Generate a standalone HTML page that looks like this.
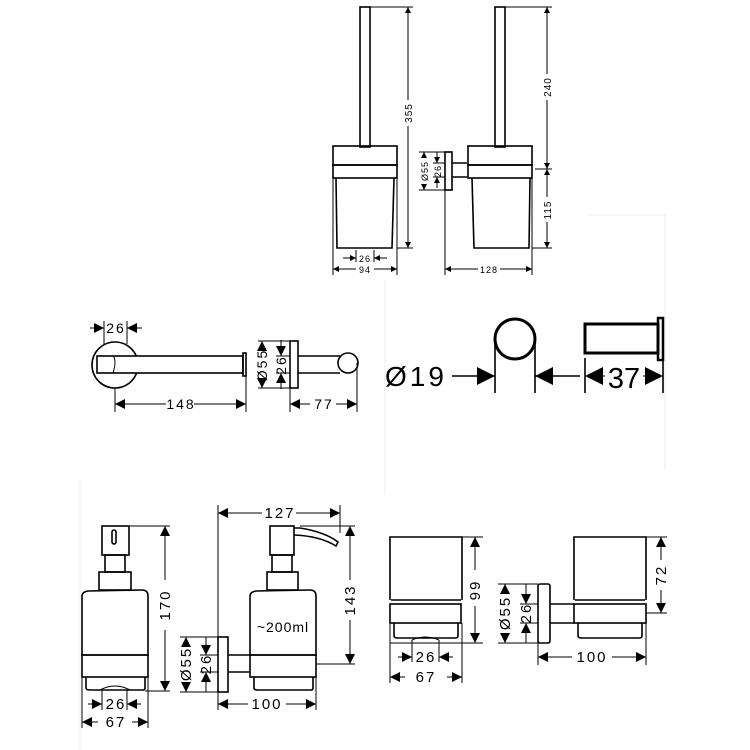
<!DOCTYPE html>
<html><head><meta charset="utf-8"><style>
html,body{margin:0;padding:0;background:#fff}
svg{display:block}
text{font-family:"Liberation Sans",sans-serif;fill:#000}
</style></head><body>
<svg width="750" height="750" viewBox="0 0 750 750" xmlns="http://www.w3.org/2000/svg">
<defs>
<marker id="a" viewBox="0 0 10 10" refX="10" refY="5" markerUnits="userSpaceOnUse" markerWidth="7" markerHeight="6" orient="auto-start-reverse"><path d="M0,0L10,5L0,10z" fill="#000"/></marker>
<marker id="b" viewBox="0 0 10 10" refX="10" refY="5" markerUnits="userSpaceOnUse" markerWidth="11" markerHeight="10" orient="auto-start-reverse"><path d="M0,0L10,5L0,10z" fill="#000"/></marker>
<marker id="c" viewBox="0 0 10 10" refX="10" refY="5" markerUnits="userSpaceOnUse" markerWidth="20" markerHeight="18" orient="auto-start-reverse"><path d="M0,0L10,5L0,10z" fill="#000"/></marker>
</defs>
<g stroke="#eee" stroke-width="1" fill="none">
<path d="M588,215H665V470"/><path d="M385,280V495"/><path d="M80,478V750"/>
</g>
<g fill="none" stroke="#000" stroke-width="1.6">
<rect x="360" y="7" width="10" height="140"/>
<rect x="333" y="146" width="64" height="19"/>
<rect x="333" y="165" width="64" height="13"/>
<path d="M336,178L337,248H392L394,178"/>
<rect x="495" y="7" width="10" height="140"/>
<rect x="468" y="146" width="64" height="19"/>
<rect x="468" y="165" width="64" height="13"/>
<path d="M472,178L474,248H529L530,178"/>
<rect x="445" y="152" width="7" height="38"/>
<path d="M452,163H467M452,177H467"/>
</g>
<g fill="none" stroke="#000" stroke-width="1">
<path d="M370,7H413M397,248H413M333,178V275M397,178V275M356,250V262M374,250V262"/>
<line x1="408" y1="7" x2="408" y2="100" marker-start="url(#a)"/>
<line x1="408" y1="126" x2="408" y2="248" marker-end="url(#a)"/>
<line x1="343" y1="258" x2="356" y2="258" marker-end="url(#a)"/>
<line x1="387" y1="258" x2="374" y2="258" marker-end="url(#a)"/>
<line x1="333" y1="269" x2="356" y2="269" marker-start="url(#a)"/>
<line x1="374" y1="269" x2="397" y2="269" marker-end="url(#a)"/>
<path d="M505,7H552M532,248H552M535,169H552M445,190V275M532,178V275M419,152H445M419,190H445M433,163H445M433,177H445"/>
<line x1="547" y1="7" x2="547" y2="74" marker-start="url(#a)"/>
<line x1="547" y1="100" x2="547" y2="169" marker-end="url(#a)"/>
<line x1="547" y1="169" x2="547" y2="197" marker-start="url(#a)"/>
<line x1="547" y1="222" x2="547" y2="248" marker-end="url(#a)"/>
<line x1="424" y1="152" x2="424" y2="156" marker-start="url(#a)"/>
<line x1="424" y1="186" x2="424" y2="190" marker-end="url(#a)"/>
<line x1="437" y1="152" x2="437" y2="163" marker-end="url(#a)"/>
<line x1="437" y1="188" x2="437" y2="177" marker-end="url(#a)"/>
<line x1="445" y1="269" x2="478" y2="269" marker-start="url(#a)"/>
<line x1="500" y1="269" x2="532" y2="269" marker-end="url(#a)"/>
</g>
<g font-size="10" letter-spacing="1">
<text transform="translate(412,113) rotate(-90)" text-anchor="middle">355</text>
<text transform="translate(551,87) rotate(-90)" text-anchor="middle">240</text>
<text transform="translate(551,210) rotate(-90)" text-anchor="middle">115</text>
<text transform="translate(428,171) rotate(-90)" text-anchor="middle" font-size="9">Ø55</text>
<text transform="translate(441,171) rotate(-90)" text-anchor="middle" font-size="9">26</text>
<text x="365" y="262" text-anchor="middle" font-size="9">26</text>
<text x="365" y="273" text-anchor="middle" font-size="9">94</text>
<text x="489" y="273" text-anchor="middle" font-size="9">128</text>
</g>

<g fill="none" stroke="#000" stroke-width="1.6">
<circle cx="115" cy="365" r="23"/>
<rect x="97" y="356" width="146" height="17" fill="#fff"/>
<path d="M113,356Q117,360 113,373" stroke-width="1"/>
<rect x="243" y="353" width="3" height="23"/>
<rect x="290" y="341" width="8" height="47"/>
<path d="M298,356H340M298,373H340"/>
<circle cx="348" cy="363" r="10"/>
</g>
<g fill="none" stroke="#000" stroke-width="1">
<path d="M104,321V344M127,321V344M115,388V412M246,376V412M258,341H290M258,388H290M276,356H290M276,373H290M290,388V412M357,363V412"/>
<line x1="90" y1="328" x2="104" y2="328" marker-end="url(#b)"/>
<line x1="142" y1="328" x2="127" y2="328" marker-end="url(#b)"/>
<line x1="115" y1="404" x2="166" y2="404" marker-start="url(#b)"/>
<line x1="194" y1="404" x2="246" y2="404" marker-end="url(#b)"/>
<line x1="262" y1="341" x2="262" y2="346" marker-start="url(#b)"/>
<line x1="262" y1="384" x2="262" y2="388" marker-end="url(#b)"/>
<line x1="281" y1="340" x2="281" y2="356" marker-end="url(#b)"/>
<line x1="281" y1="389" x2="281" y2="373" marker-end="url(#b)"/>
<line x1="290" y1="404" x2="310" y2="404" marker-start="url(#b)"/>
<line x1="336" y1="404" x2="357" y2="404" marker-end="url(#b)"/>
</g>
<g font-size="14" letter-spacing="2">
<text x="116" y="333" text-anchor="middle">26</text>
<text x="181" y="409" text-anchor="middle">148</text>
<text x="324" y="409" text-anchor="middle">77</text>
<text transform="translate(267,365) rotate(-90)" text-anchor="middle">Ø55</text>
<text transform="translate(286,365) rotate(-90)" text-anchor="middle">26</text>
</g>

<g fill="none" stroke="#000">
<circle cx="515" cy="339" r="20" stroke-width="3"/>
<rect x="585" y="324" width="73" height="29" stroke-width="3"/>
<rect x="658" y="318" width="5" height="42" stroke-width="2.5"/>
<path d="M495,339V393M535,339V393M585,358V393M663,360V393" stroke-width="1.6"/>
<line x1="452" y1="376" x2="495" y2="376" stroke-width="1.6" marker-end="url(#c)"/>
<line x1="580" y1="376" x2="535" y2="376" stroke-width="1.6" marker-end="url(#c)"/>
<line x1="605" y1="376" x2="585" y2="376" stroke-width="1" marker-end="url(#c)"/>
<line x1="643" y1="376" x2="663" y2="376" stroke-width="1" marker-end="url(#c)"/>
</g>
<text x="385" y="386" font-size="28" letter-spacing="3">Ø19</text>
<text x="624" y="388" font-size="29" text-anchor="middle">37</text>

<g fill="none" stroke="#000" stroke-width="1.6">
<rect x="102" y="526" width="27" height="29"/>
<rect x="112" y="530" width="4" height="14" rx="2"/>
<rect x="105" y="555" width="20" height="17"/>
<rect x="99" y="572" width="32" height="18"/>
<path d="M82,655V596Q82,592 88,591L142,590Q148,590 148,596V655Z"/>
<rect x="82" y="655" width="66" height="22"/>
<path d="M86,677V688Q86,690 90,690H143Q145,690 145,688V677"/>
<path d="M100,690Q115,682 130,690" stroke-width="1"/>
<rect x="218" y="637" width="10" height="55"/>
<path d="M228,655H250M228,672H250"/>
<rect x="270" y="526" width="24" height="29"/>
<path d="M294,528L300,528Q325,532 338,542L336,546Q320,536 294,535"/>
<rect x="272" y="555" width="20" height="17"/>
<rect x="267" y="572" width="31" height="18"/>
<path d="M250,655V596Q250,592 256,591L310,590Q316,590 316,596V655Z"/>
<rect x="250" y="655" width="66" height="22"/>
<path d="M254,677V688Q254,690 258,690H311Q313,690 313,688V677"/>
</g>
<g fill="none" stroke="#000" stroke-width="1">
<path d="M130,526H170M145,691H170M102,690V710M127,690V710M82,677V728M148,677V728"/>
<line x1="165" y1="526" x2="165" y2="580" marker-start="url(#b)"/>
<line x1="165" y1="630" x2="165" y2="691" marker-end="url(#b)"/>
<line x1="88" y1="704" x2="102" y2="704" marker-end="url(#b)"/>
<line x1="141" y1="704" x2="127" y2="704" marker-end="url(#b)"/>
<line x1="82" y1="722" x2="98" y2="722" marker-start="url(#b)"/>
<line x1="132" y1="722" x2="148" y2="722" marker-end="url(#b)"/>
<path d="M218,505V710M340,505V533M300,526H355M316,664H355M180,637H218M180,692H218M200,655H218M200,672H218M316,677V710"/>
<line x1="218" y1="513" x2="262" y2="513" marker-start="url(#b)"/>
<line x1="296" y1="513" x2="340" y2="513" marker-end="url(#b)"/>
<line x1="350" y1="526" x2="350" y2="580" marker-start="url(#b)"/>
<line x1="350" y1="620" x2="350" y2="664" marker-end="url(#b)"/>
<line x1="186" y1="637" x2="186" y2="642" marker-start="url(#b)"/>
<line x1="186" y1="687" x2="186" y2="692" marker-end="url(#b)"/>
<line x1="206" y1="637" x2="206" y2="655" marker-end="url(#b)"/>
<line x1="206" y1="692" x2="206" y2="672" marker-end="url(#b)"/>
<line x1="218" y1="704" x2="248" y2="704" marker-start="url(#b)"/>
<line x1="286" y1="704" x2="316" y2="704" marker-end="url(#b)"/>
</g>
<g font-size="15" letter-spacing="2">
<text transform="translate(170,605) rotate(-90)" text-anchor="middle">170</text>
<text x="116" y="709" text-anchor="middle">26</text>
<text x="116" y="727" text-anchor="middle">67</text>
<text x="280" y="518" text-anchor="middle">127</text>
<text transform="translate(355,600) rotate(-90)" text-anchor="middle">143</text>
<text x="283" y="632" text-anchor="middle" letter-spacing="1" font-size="14">~200ml</text>
<text transform="translate(191,664) rotate(-90)" text-anchor="middle">Ø55</text>
<text transform="translate(211,664) rotate(-90)" text-anchor="middle">26</text>
<text x="267" y="709" text-anchor="middle">100</text>
</g>

<g fill="none" stroke="#000" stroke-width="1.6">
<path d="M390,600V537H462V600"/><path d="M391,600H461"/>
<rect x="390" y="604" width="71" height="19"/>
<path d="M394,623V636Q394,638 398,638H455Q458,638 458,636V623"/>
<path d="M412,640Q425,634 439,640" stroke-width="1"/>
<rect x="538" y="584" width="12" height="59" rx="2"/>
<path d="M550,604H574M550,623H574"/>
<path d="M574,600V537H646V600"/><path d="M575,600H645"/>
<rect x="574" y="604" width="72" height="19"/>
<path d="M578,623V636Q578,638 582,638H639Q642,638 642,636V623"/>
</g>
<g fill="none" stroke="#000" stroke-width="1">
<path d="M462,537H483M390,643H483M412,640V662M439,640V662M390,623V683M462,623V683"/>
<line x1="475" y1="537" x2="475" y2="570" marker-start="url(#b)"/>
<line x1="475" y1="606" x2="475" y2="643" marker-end="url(#b)"/>
<line x1="398" y1="657" x2="412" y2="657" marker-end="url(#b)"/>
<line x1="453" y1="657" x2="439" y2="657" marker-end="url(#b)"/>
<line x1="390" y1="677" x2="405" y2="677" marker-start="url(#b)"/>
<line x1="447" y1="677" x2="462" y2="677" marker-end="url(#b)"/>
<path d="M646,537H667M646,613H667M498,584H538M498,643H538M520,604H538M520,623H538M538,643V665M646,623V665"/>
<line x1="661" y1="537" x2="661" y2="560" marker-start="url(#b)"/>
<line x1="661" y1="590" x2="661" y2="613" marker-end="url(#b)"/>
<line x1="505" y1="584" x2="505" y2="590" marker-start="url(#b)"/>
<line x1="505" y1="637" x2="505" y2="643" marker-end="url(#b)"/>
<line x1="526" y1="584" x2="526" y2="604" marker-end="url(#b)"/>
<line x1="526" y1="643" x2="526" y2="623" marker-end="url(#b)"/>
<line x1="538" y1="657" x2="572" y2="657" marker-start="url(#b)"/>
<line x1="612" y1="657" x2="646" y2="657" marker-end="url(#b)"/>
</g>
<g font-size="15" letter-spacing="2">
<text transform="translate(480,590) rotate(-90)" text-anchor="middle">99</text>
<text x="426" y="662" text-anchor="middle">26</text>
<text x="426" y="682" text-anchor="middle">67</text>
<text transform="translate(666,575) rotate(-90)" text-anchor="middle">72</text>
<text transform="translate(510,613) rotate(-90)" text-anchor="middle">Ø55</text>
<text transform="translate(531,613) rotate(-90)" text-anchor="middle">26</text>
<text x="592" y="662" text-anchor="middle">100</text>
</g>
</svg>
</body></html>
